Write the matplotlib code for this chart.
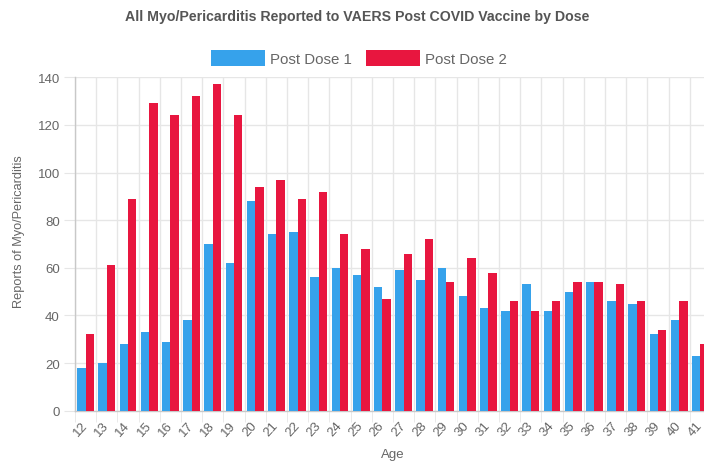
import matplotlib
matplotlib.use("Agg")
import matplotlib.pyplot as plt
import matplotlib.transforms as mtransforms
import numpy as np

ages = [str(a) for a in range(12, 42)]
dose1 = [18, 20, 28, 33, 29, 38, 70, 62, 88, 74, 75, 56, 60, 57, 52, 59, 55, 60, 48, 43,
         42, 53, 42, 50, 54, 46, 45, 32, 38, 23]
dose2 = [32, 61, 89, 129, 124, 132, 137, 124, 94, 97, 89, 92, 74, 68, 47, 66, 72, 54, 64, 58,
         46, 42, 46, 54, 54, 53, 46, 34, 46, 28]
yticks = [0, 20, 40, 60, 80, 100, 120, 140]

blue = '#36A2EB'
red = '#E8163F'
txt = '#666666'
grid = '#E6E6E6'

plt.rcParams['font.family'] = ['Liberation Sans', 'DejaVu Sans']

W, H = 704, 464
fig = plt.figure(figsize=(W / 100, H / 100), dpi=100)
left, right = 75, 711
top, bottom = 78.3, 411.7
ax = fig.add_axes([left / W, (H - bottom) / H, (right - left) / W, (bottom - top) / H])

x = np.arange(len(ages))
ax.bar(x - 0.2, dose1, width=0.4, color=blue, label='Post Dose 1', zorder=3)
ax.bar(x + 0.2, dose2, width=0.4, color=red, label='Post Dose 2', zorder=3)

ax.set_xlim(-0.5, len(ages) - 0.5)
ax.set_ylim(0, 140)
ax.set_yticks(yticks)
ax.set_yticklabels([str(v) for v in yticks], color=txt, fontsize=9.5)

# category ticks (labels at centers), gridlines at boundaries
ax.set_xticks(x)
ax.set_xticklabels(ages, rotation=48, ha='right', va='center', rotation_mode='anchor',
                   color=txt, fontsize=9.5)
offset = mtransforms.ScaledTranslation(3 / 100, 0, fig.dpi_scale_trans)
for lbl in ax.get_xticklabels():
    lbl.set_transform(lbl.get_transform() + offset)
ax.tick_params(axis='x', length=0, pad=9)
ax.tick_params(axis='y', length=8, color=grid, pad=3)
ax.set_xticks(np.arange(-0.5, len(ages), 1), minor=True)
ax.tick_params(axis='x', which='minor', length=8, color=grid)
ax.grid(True, which='minor', axis='x', color=grid, linewidth=1, zorder=0)
ax.grid(True, which='major', axis='y', color=grid, linewidth=1, zorder=0)
ax.grid(False, which='major', axis='x')

for s in ['top', 'right']:
    ax.spines[s].set_visible(False)
for s in ['left', 'bottom']:
    ax.spines[s].set_color('#C8C8C8')
    ax.spines[s].set_linewidth(1)

fig.text(357 / W, 1 - 17 / H, 'All Myo/Pericarditis Reported to VAERS Post COVID Vaccine by Dose',
         ha='center', va='center', fontsize=10.2, fontweight='bold', color='#555555')
fig.text(19 / W, 1 - 232 / H, 'Reports of Myo/Pericarditis', rotation=90, ha='center',
         va='center', fontsize=9.2, color=txt)
fig.text(393 / W, 1 - 455 / H, 'Age', ha='center', va='center', fontsize=9.5, color=txt)

leg = fig.legend(loc='center', bbox_to_anchor=(359 / W, 1 - 59 / H), ncol=2, frameon=False,
                 fontsize=10.8, handlelength=3.6, handleheight=1.25, columnspacing=0.9,
                 handletextpad=0.35, labelcolor=txt)

fig.savefig('out.png', dpi=100)
